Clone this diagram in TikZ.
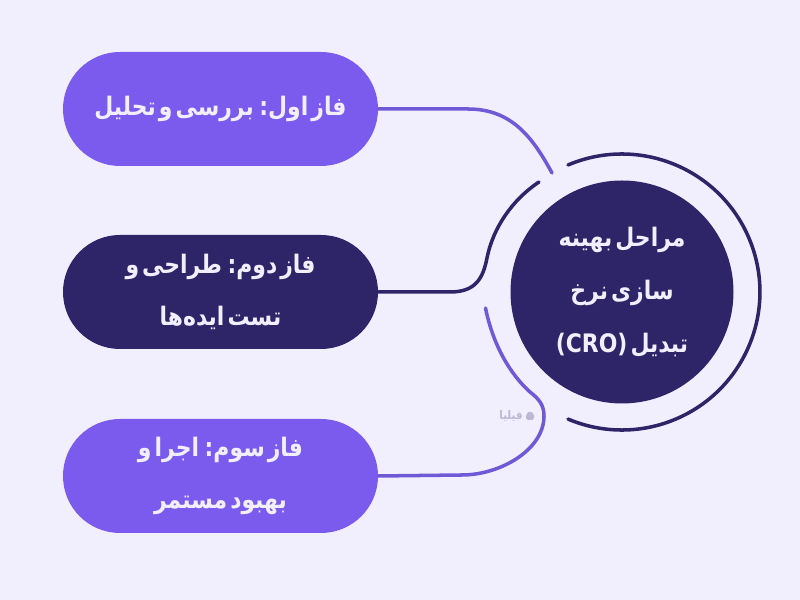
\documentclass[tikz,border=0pt]{standalone}
\usepackage{fontspec}
\TeXXeTstate=1
\newfontfamily\arabicfont[Script=Arabic,FakeStretch=0.86,WordSpace=0.4]{DejaVu Sans}
\newcommand{\rtl}[1]{\beginR #1\endR}
\definecolor{pagebg}{HTML}{F1EFFE}
\definecolor{lightpurple}{HTML}{7B5BEE}
\definecolor{linepurple}{HTML}{7059D6}
\definecolor{darkblue}{HTML}{2E2468}
\definecolor{markgray}{HTML}{BBB8D2}
\tikzset{
    phasebox/.style={rectangle,rounded corners=1.14cm,minimum width=6.3cm,minimum height=2.28cm,
        inner sep=0pt,align=center,text=pagebg,font=\fontsize{14.5}{29.5}\selectfont\arabicfont\bfseries},
    hubcircle/.style={circle,fill=darkblue,minimum size=4.46cm,inner sep=0pt,align=center,
        text=pagebg,font=\fontsize{14.5}{30}\selectfont\arabicfont\bfseries},
    linkline/.style={line width=2pt,line cap=round},
}
\begin{document}
\begin{tikzpicture}[x=0.2mm,y=0.2mm]%
        \useasboundingbox[fill=pagebg] (0,0) rectangle (800,600);
        \node[phasebox,fill=lightpurple] (first) at (220.5,491) {\rtl{فاز اول: بررسی و تحلیل}};
        \node[phasebox,fill=darkblue] (second) at (220.5,308) {\rtl{فاز دوم: طراحی و}\\\rtl{تست ایده‌ها}};
        \node[phasebox,fill=lightpurple] (third) at (220.5,124) {\rtl{فاز سوم: اجرا و}\\\rtl{بهبود مستمر}};
        \node[hubcircle] (hub) at (622,308) {\rtl{مراحل بهینه}\\\rtl{سازی نرخ}\\\rtl{تبدیل \beginL(CRO)\endL}};
        % loose ends next to the circle
        \coordinate (firstend) at (552,427);
        \coordinate (secondend) at (539,418);
        \coordinate (thirdend) at (485.5,292);
        \coordinate (ringstart) at (568,435);
        \draw[linkline,linepurple] (first.east) -- (468,491) .. controls (512,491) and (533,462) .. (firstend);
        \draw[linkline,darkblue] (second.east) -- (450,308) .. controls (476,308) and (483,322) .. (487,342)
            .. controls (493,372) and (512,400) .. (secondend);
        \draw[linkline,linepurple] (third.east) -- (462,125) .. controls (500,125) and (544,150) .. (544,184)
            .. controls (544,195) and (539,201) .. (530,208) .. controls (510,226) and (493,255) .. (thirdend);
        \draw[linkline,darkblue] (ringstart) arc[start angle=113,end angle=-113,radius=138];
        % small mark
        \node[text=markgray,font=\fontsize{6.8}{8}\selectfont\arabicfont\bfseries,inner sep=0pt] (mark) at (511,184) {\rtl{فیلیا}};
        \fill[markgray,rounded corners=1pt] (526,180) -- (526,186) -- (530,189) -- (534,186) -- (534,180) -- cycle;
\end{tikzpicture}
\end{document}
